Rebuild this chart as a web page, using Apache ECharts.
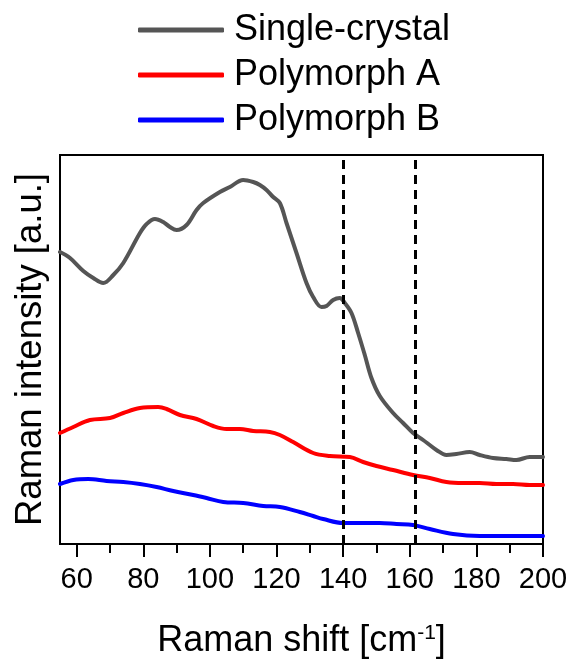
<!DOCTYPE html>
<html>
<head>
<meta charset="utf-8">
<script src="https://cdn.jsdelivr.net/npm/echarts@6/dist/echarts.min.js"></script>
<style>
  html, body { margin: 0; padding: 0; background: #fff; }
  #chart { width: 572px; height: 660px; }
</style>
</head>
<body>
<div id="chart"></div>
<script>
// Raman spectra, low-frequency region (arbitrary intensity units)
const seriesNames = ['Single-crystal', 'Polymorph A', 'Polymorph B'];

const singleShift = [55, 58, 62, 65, 68, 71, 74, 79, 81, 83.5, 86, 88, 90, 93, 96, 98, 103, 106, 110, 113, 115, 117, 119, 121, 123, 126, 129, 131, 133.5, 135, 137, 139, 140.5, 142.5, 144.5, 146.5, 148.5, 151, 155, 158, 161, 164, 166, 168, 171, 174, 178, 181, 185, 189, 192, 196, 200];
const singleIntensity = [292, 286, 273, 266, 261, 269, 281, 311, 320, 325, 322, 317, 314, 319, 334, 341, 352, 357, 364, 362, 359, 354, 347, 341, 321, 291, 261, 247, 237, 238, 244, 246, 241, 231, 211, 189, 166, 148, 131, 121, 111, 104, 99, 94, 89, 90, 92, 89, 86, 85, 84, 87, 87];

const polyAShift = [55, 59, 64, 70, 74, 79, 84.5, 87, 91, 96, 101, 105, 109, 113, 118, 121, 125, 131, 136, 142, 146, 150, 155, 161, 166, 171, 176, 181, 186, 191, 196, 200];
const polyAIntensity = [111, 117, 124, 126, 131, 136, 137, 135, 129, 125, 118, 115, 115, 113, 112, 109, 102, 91, 88, 87, 82, 78, 74, 69, 66, 62, 61, 61, 60, 60, 59, 59];

const polyBShift = [55, 59, 63.5, 69, 74, 79, 84, 89, 95, 99, 104, 110, 116, 121, 127, 131, 134, 140, 145, 151, 156, 161, 166, 173, 181, 191, 200];
const polyBIntensity = [60, 64, 65, 63, 62, 60, 57, 53, 49, 46, 42, 41, 38, 37, 32, 28, 25, 21, 21, 21, 20, 19, 15, 10, 8, 8, 8];

const seriesColors = ['#555555', '#ff0000', '#0000ff'];

// Reference positions marked with dashed lines
const markedShifts = [140, 161.5];

// Axis tick positions
const majorTicks = [60, 80, 100, 120, 140, 160, 180, 200];
const minorTicks = [70, 90, 110, 130, 150, 170, 190];

const xMin = 55, xMax = 200;
const yMin = 0, yMax = 389;

function pairs(xs, ys) {
  return xs.map((x, i) => [x, ys[i]]);
}

const font = 'Liberation Sans, Arial, Helvetica, sans-serif';

const chart = echarts.init(document.getElementById('chart'), null, { renderer: 'canvas' });

const lineSeries = [
  [singleShift, singleIntensity],
  [polyAShift, polyAIntensity],
  [polyBShift, polyBIntensity]
].map(([xs, ys], i) => ({
  name: seriesNames[i],
  type: 'line',
  data: pairs(xs, ys),
  smooth: 0.35,
  showSymbol: false,
  symbol: 'none',
  lineStyle: { color: seriesColors[i], width: 4, cap: 'round', join: 'round' },
  itemStyle: { color: seriesColors[i] },
  z: 3,
  ...(i === 0 ? {
    markLine: {
      silent: true,
      symbol: ['none', 'none'],
      label: { show: false },
      lineStyle: { color: '#000', width: 3, type: [9, 6] },
      data: markedShifts.map(v => ({ xAxis: v }))
    }
  } : {})
}));

chart.setOption({
  animation: false,
  backgroundColor: '#fff',
  grid: {
    left: 60, right: 29, top: 155, bottom: 116,
    containLabel: false, outerBoundsMode: 'none',
    show: true, borderColor: '#000', borderWidth: 2, backgroundColor: 'transparent'
  },
  legend: {
    orient: 'vertical',
    left: 138, top: 12, padding: 0,
    itemWidth: 86, itemHeight: 5, itemGap: 9,
    icon: 'roundRect',
    textStyle: { fontFamily: font, fontSize: 36, color: '#000', padding: [0, 0, 0, 5] },
    data: seriesNames.map((n, i) => ({ name: n, itemStyle: { color: seriesColors[i] } }))
  },
  xAxis: [
    {
      type: 'value', min: xMin, max: xMax, position: 'bottom',
      name: 'Raman shift [cm{sup|-1}]',
      nameLocation: 'middle', nameGap: 79,
      nameTextStyle: {
        fontFamily: font, fontSize: 36, color: '#000',
        rich: { sup: { fontFamily: font, fontSize: 21, color: '#000', verticalAlign: 'top', padding: [0, 0, 15, 0] } }
      },
      axisLine: { show: true, lineStyle: { color: '#000', width: 2 } },
      axisTick: { show: true, inside: false, length: 13, lineStyle: { width: 2, color: '#000' }, customValues: majorTicks },
      axisLabel: { fontFamily: font, fontSize: 29, color: '#000', margin: 21, customValues: majorTicks },
      splitLine: { show: false }
    },
    {
      type: 'value', min: xMin, max: xMax, position: 'bottom', gridIndex: 0,
      axisLine: { show: false },
      axisTick: { show: true, inside: false, length: 9, lineStyle: { width: 2, color: '#000' }, customValues: minorTicks },
      axisLabel: { show: false },
      splitLine: { show: false }
    }
  ],
  yAxis: {
    type: 'value', min: yMin, max: yMax,
    name: 'Raman intensity [a.u.]',
    nameLocation: 'middle', nameGap: 11,
    nameTextStyle: { fontFamily: font, fontSize: 36.5, color: '#000' },
    axisLine: { show: true, lineStyle: { color: '#000', width: 2 } },
    axisTick: { show: false },
    axisLabel: { show: false },
    splitLine: { show: false }
  },
  series: lineSeries
});
</script>
</body>
</html>
